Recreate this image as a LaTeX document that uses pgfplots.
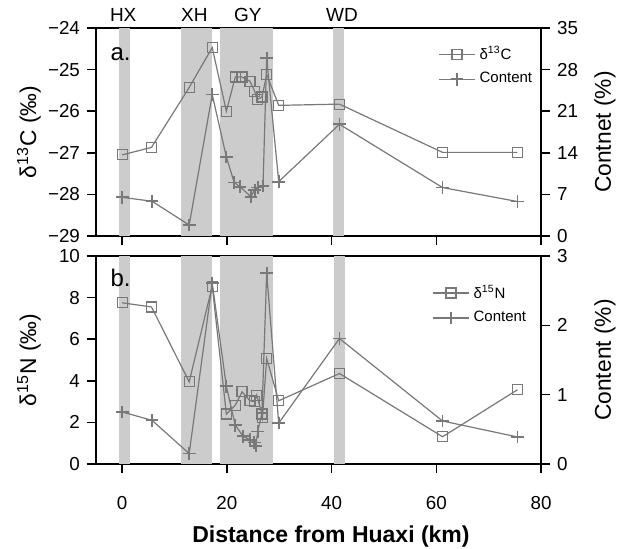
\documentclass[border=0pt]{standalone}
\usepackage{fontspec}
\setmainfont{Liberation Sans}
\usepackage{pgfplots}
\pgfplotsset{compat=1.18}
\definecolor{band}{RGB}{204,204,204}
\definecolor{ln}{RGB}{120,120,120}
\pgfplotstableread{
x y
0 -27.05
5.6 -26.87
12.8 -25.43
17.2 -24.47
19.9 -26.0
21.6 -25.18
22.9 -25.18
24.4 -25.28
25.3 -25.52
25.8 -25.72
26.7 -25.66
27.6 -25.12
29.9 -25.86
41.5 -25.83
61.2 -26.99
75.5 -26.99
}\dC
\pgfplotstableread{
x y
0 6.5
5.7 5.85
12.8 1.85
17.2 23.8
19.9 13.3
21.4 9.0
22.5 8.3
24.6 6.6
25.3 7.75
25.9 8.15
26.9 8.4
27.6 29.9
29.9 9.15
41.5 18.8
61.2 8.15
75.5 5.8
}\Cc
\pgfplotstableread{
x y
0 7.75
5.6 7.55
12.8 3.95
17.2 8.55
19.9 2.4
21.6 2.83
22.9 3.47
24.4 3.04
25.3 3.0
25.7 3.31
26.7 2.4
26.8 2.25
27.6 5.07
29.9 3.04
41.5 4.35
61.2 1.31
75.5 3.57
}\dN
\pgfplotstableread{
x y
0 0.75
5.7 0.63
12.8 0.15
17.2 2.61
19.9 1.12
21.6 0.56
23.1 0.40
24.4 0.35
25.2 0.31
25.5 0.26
25.9 0.47
26.7 0.73
27.6 2.75
29.9 0.59
41.5 1.81
61.2 0.62
75.5 0.39
}\Nc
\pgfplotsset{
  panel/.style={scale only axis, width=222.5pt, height=104pt,
    xmin=-5, xmax=80, xtick={0,20,40,60,80},
    axis line style={line width=1pt},
    tick style={line width=0.8pt, black},
    major tick length=4.5pt,
    /pgf/number format/assume math mode=true,
    tick label style={font=\fontsize{9.4}{10}\selectfont},
    label style={font=\fontsize{11.4}{13}\selectfont},
    clip=false},
  sq/.style={ln, line width=0.6pt, mark=square, mark size=2.5pt, mark options={solid, line width=0.6pt}},
  cr/.style={ln, line width=0.6pt, mark=+, mark size=3.2pt, mark options={solid, line width=0.9pt}},
  bandfill/.style={fill=band, draw=none, forget plot},
  leg/.style={legend style={draw=none, fill=none, anchor=north west,
    font=\fontsize{7.5}{9}\selectfont, row sep=1pt, inner sep=0pt},
    legend cell align=left,
    legend image code/.code={\draw[##1, mark=none] (0pt,0pt) -- (18pt,0pt); \draw[##1] plot coordinates {(9pt,0pt)};}}
}
\begin{document}
\begin{tikzpicture}
\path[use as bounding box] (-48pt,-42.5pt) rectangle (261.5pt,232pt);
% ---------- top panel ----------
\begin{axis}[panel, at={(0,114pt)}, anchor=south west,
  ymin=-29, ymax=-24, ytick={-29,-28,...,-24},
  yticklabels={−29,−28,−27,−26,−25,−24},
  xtick pos=left, ytick pos=left, tick align=outside,
  xticklabels={},
  ylabel={δ\textsuperscript{13}C (‰)},
  ylabel style={at={(axis description cs:-0.1506,0.5)}, anchor=center}]
\addplot[bandfill] coordinates {(-0.7,-29) (1.4,-29) (1.4,-24) (-0.7,-24)} -- cycle;
\addplot[bandfill] coordinates {(11.2,-29) (17.2,-29) (17.2,-24) (11.2,-24)} -- cycle;
\addplot[bandfill] coordinates {(18.6,-29) (28.9,-29) (28.9,-24) (18.6,-24)} -- cycle;
\addplot[bandfill] coordinates {(40.3,-29) (42.3,-29) (42.3,-24) (40.3,-24)} -- cycle;
\addplot[sq] table {\dC};
\node[font=\fontsize{12}{14}\selectfont, anchor=base west] at (rel axis cs:0.017,0.846) {a.};
\node[font=\fontsize{9.5}{11}\selectfont] at (axis cs:0.2,-24) [yshift=6.5pt] {HX};
\node[font=\fontsize{9.5}{11}\selectfont] at (axis cs:13.8,-24) [yshift=6.5pt] {XH};
\node[font=\fontsize{9.5}{11}\selectfont] at (axis cs:24,-24) [yshift=6.5pt] {GY};
\node[font=\fontsize{9.5}{11}\selectfont] at (axis cs:42,-24) [yshift=6.5pt] {WD};
\end{axis}
\begin{axis}[panel, at={(0,114pt)}, anchor=south west,
  ymin=0, ymax=35, ytick={0,7,...,35},
  axis y line*=right, axis x line=none, tick align=outside,
  ylabel={Contnet (\%)},
  ylabel style={at={(axis description cs:1.1438,0.5)}, anchor=center},
  leg, legend style={at={(axis description cs:0.7685,0.934)}}]
\addlegendimage{sq}
\addlegendentry{δ\textsuperscript{13}C}
\addplot[cr] table {\Cc};
\addlegendentry{Content}
\end{axis}
% ---------- bottom panel ----------
\begin{axis}[panel, at={(0,0)}, anchor=south west,
  ymin=0, ymax=10, ytick={0,2,...,10},
  xtick pos=left, ytick pos=left, tick align=outside,
  xticklabel shift=8pt,
  ylabel={δ\textsuperscript{15}N (‰)},
  ylabel style={at={(axis description cs:-0.1506,0.5)}, anchor=center},
  xlabel={Distance from Huaxi (km)},
  xlabel style={font=\bfseries\fontsize{11.5}{13}\selectfont, at={(axis description cs:0.528,-0.35)}, anchor=center}]
\addplot[bandfill] coordinates {(-0.7,0) (1.4,0) (1.4,10) (-0.7,10)} -- cycle;
\addplot[bandfill] coordinates {(11.2,0) (17.2,0) (17.2,10) (11.2,10)} -- cycle;
\addplot[bandfill] coordinates {(18.6,0) (28.9,0) (28.9,10) (18.6,10)} -- cycle;
\addplot[bandfill] coordinates {(40.5,0) (42.5,0) (42.5,10) (40.5,10)} -- cycle;
\addplot[sq] table {\dN};
\node[font=\fontsize{12}{14}\selectfont, anchor=base west] at (rel axis cs:0.017,0.853) {b.};
\end{axis}
\begin{axis}[panel, at={(0,0)}, anchor=south west,
  ymin=0, ymax=3, ytick={0,1,2,3},
  axis y line*=right, axis x line=none, tick align=outside,
  ylabel={Content (\%)},
  ylabel style={at={(axis description cs:1.1438,0.5)}, anchor=center},
  leg, legend style={at={(axis description cs:0.755,0.882)}}]
\addlegendimage{sq}
\addlegendentry{δ\textsuperscript{15}N}
\addplot[cr] table {\Nc};
\addlegendentry{Content}
\end{axis}
\end{tikzpicture}
\end{document}
